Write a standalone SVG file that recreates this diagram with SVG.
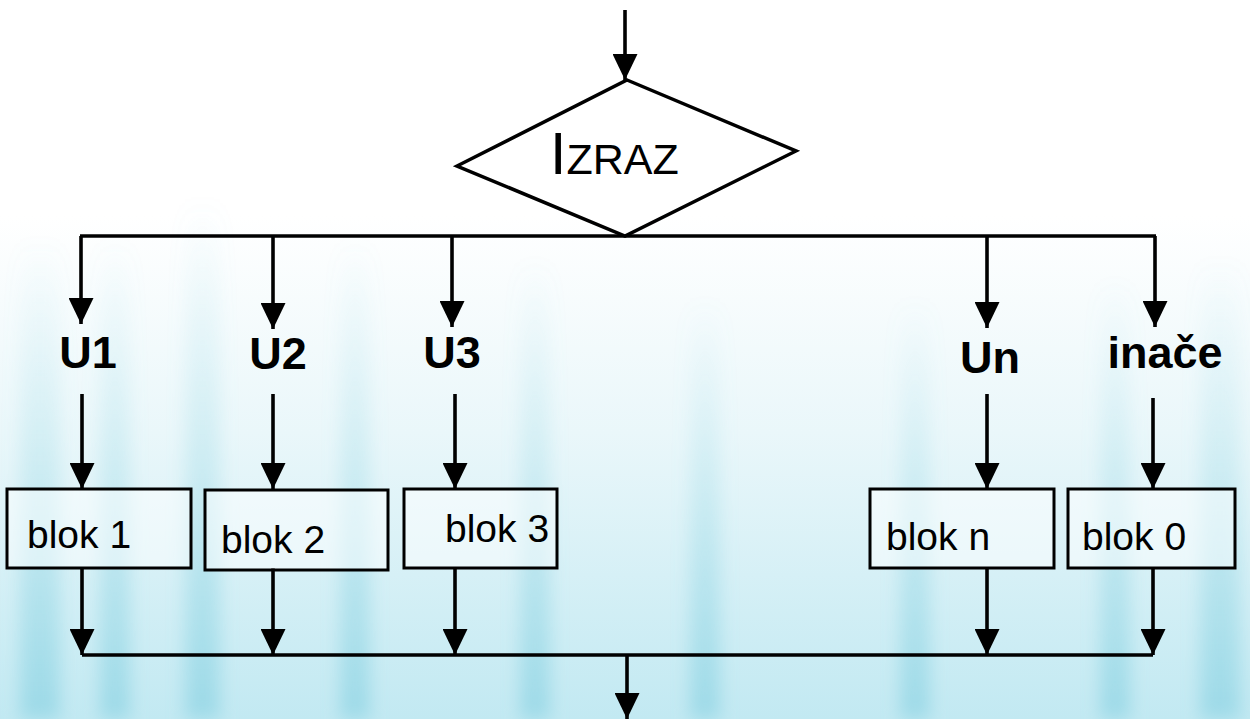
<svg xmlns="http://www.w3.org/2000/svg" width="1250" height="719" viewBox="0 0 1250 719">
<style>
.ln{stroke:#000;stroke-width:3.6;fill:none}
.box{stroke:#000;stroke-width:3;fill:#fff;fill-opacity:0.5}
.lbl{font-family:"Liberation Sans",Arial,sans-serif;font-weight:bold;font-size:45px;fill:#000;text-anchor:middle}
.blk{font-family:"Liberation Sans",Arial,sans-serif;font-size:39px;fill:#000}
</style>
<defs>
<marker id="ah" markerUnits="userSpaceOnUse" markerWidth="26" markerHeight="25" refX="26" refY="12.5" orient="auto">
<path d="M0,0 L26,12.5 L0,25 z" fill="#000"/>
</marker>
<linearGradient id="bg" x1="0" y1="0" x2="0" y2="1">
<stop offset="0" stop-color="#ffffff"/>
<stop offset="0.3" stop-color="#ffffff"/>
<stop offset="0.6" stop-color="#eaf7fa"/>
<stop offset="1" stop-color="#c2e9f2"/>
</linearGradient>
<linearGradient id="streak" x1="0" y1="0" x2="0" y2="1">
<stop offset="0" stop-color="#7fd0e0" stop-opacity="0"/>
<stop offset="0.4" stop-color="#7fd0e0" stop-opacity="0.2"/>
<stop offset="1" stop-color="#6cc6da" stop-opacity="0.45"/>
</linearGradient>
<filter id="soft" x="-50%" y="-10%" width="200%" height="120%">
<feGaussianBlur stdDeviation="9"/>
</filter>
</defs>
<rect width="1250" height="719" fill="url(#bg)"/>
<g id="background-streaks" fill="url(#streak)" filter="url(#soft)">
<rect x="20" y="240" width="40" height="479"/>
<rect x="100" y="240" width="30" height="479"/>
<rect x="185" y="200" width="35" height="519"/>
<rect x="340" y="240" width="30" height="479"/>
<rect x="520" y="260" width="30" height="459"/>
<rect x="690" y="300" width="30" height="419"/>
<rect x="900" y="300" width="30" height="419"/>
<rect x="1100" y="280" width="30" height="439"/>
<rect x="1200" y="260" width="40" height="459"/>
</g>
<g id="connectors">
<line class="ln" x1="625" y1="10" x2="625" y2="80" marker-end="url(#ah)"/>
<polyline class="ln" points="80,236 1156,236"/>
<line class="ln" x1="81" y1="236" x2="81" y2="324" marker-end="url(#ah)"/>
<line class="ln" x1="273" y1="236" x2="273" y2="329" marker-end="url(#ah)"/>
<line class="ln" x1="452" y1="236" x2="452" y2="327" marker-end="url(#ah)"/>
<line class="ln" x1="987" y1="236" x2="987" y2="328" marker-end="url(#ah)"/>
<line class="ln" x1="1155" y1="236" x2="1155" y2="327" marker-end="url(#ah)"/>
<line class="ln" x1="82" y1="394" x2="82" y2="489" marker-end="url(#ah)"/>
<line class="ln" x1="273" y1="394" x2="273" y2="489" marker-end="url(#ah)"/>
<line class="ln" x1="455" y1="394" x2="455" y2="489" marker-end="url(#ah)"/>
<line class="ln" x1="987" y1="394" x2="987" y2="489" marker-end="url(#ah)"/>
<line class="ln" x1="1153" y1="398" x2="1153" y2="489" marker-end="url(#ah)"/>
<line class="ln" x1="82" y1="568" x2="82" y2="655" marker-end="url(#ah)"/>
<line class="ln" x1="273" y1="568" x2="273" y2="655" marker-end="url(#ah)"/>
<line class="ln" x1="455" y1="568" x2="455" y2="655" marker-end="url(#ah)"/>
<line class="ln" x1="987" y1="568" x2="987" y2="655" marker-end="url(#ah)"/>
<line class="ln" x1="1153" y1="568" x2="1153" y2="655" marker-end="url(#ah)"/>
<polyline class="ln" points="82,655 1153,655"/>
<line class="ln" x1="627" y1="655" x2="627" y2="719" marker-end="url(#ah)"/>
</g>
<g id="izraz">
<polygon points="627,80 796,151 625,236 457,166" fill="#fff" stroke="#000" stroke-width="3.5" stroke-linejoin="miter"/>
<text x="550" y="174" font-family="'Liberation Sans',Arial,sans-serif" fill="#000"><tspan font-size="59">I</tspan><tspan font-size="43">ZRAZ</tspan></text>
</g>
<g id="u1"><text class="lbl" x="88" y="368">U1</text></g>
<g id="u2"><text class="lbl" x="278" y="369">U2</text></g>
<g id="u3"><text class="lbl" x="452" y="368">U3</text></g>
<g id="un"><text class="lbl" x="990" y="373">Un</text></g>
<g id="inace"><text class="lbl" x="1165" y="368">inače</text></g>
<g id="blok1"><rect class="box" x="7" y="489" width="184" height="79"/><text class="blk" x="27" y="548">blok 1</text></g>
<g id="blok2"><rect class="box" x="205" y="490" width="183" height="80"/><text class="blk" x="221" y="553">blok 2</text></g>
<g id="blok3"><rect class="box" x="404" y="489" width="153" height="79"/><text class="blk" x="445" y="542">blok 3</text></g>
<g id="blokn"><rect class="box" x="870" y="489" width="184" height="79"/><text class="blk" x="886" y="550">blok n</text></g>
<g id="blok0"><rect class="box" x="1068" y="489" width="167" height="79"/><text class="blk" x="1082" y="550">blok 0</text></g>
</svg>
